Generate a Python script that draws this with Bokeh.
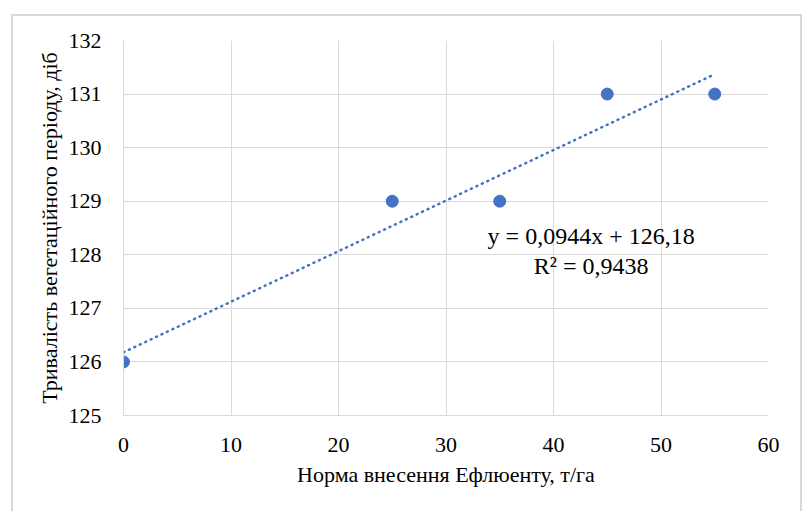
from bokeh.plotting import figure
from bokeh.models import FixedTicker, Range1d, Label
from bokeh.embed import file_html
from bokeh.resources import INLINE

# Effluent application rate (t/ha) vs. vegetation period length (days)
rate = [0, 25, 35, 45, 55]
days = [126, 129, 129, 131, 131]

x_ticks = [0, 10, 20, 30, 40, 50, 60]
y_ticks = [125, 126, 127, 128, 129, 130, 131, 132]

x_title = "Норма внесення Ефлюенту, т/га"
y_title = "Тривалість вегетаційного періоду, діб"

FONT = "Liberation Serif"
BLUE = "#4472C4"
GRID = "#d9d9d9"

# least-squares linear trend
n = len(rate)
mx = sum(rate) / n
my = sum(days) / n
sxx = sum((x - mx) ** 2 for x in rate)
sxy = sum((x - mx) * (y - my) for x, y in zip(rate, days))
syy = sum((y - my) ** 2 for y in days)
slope = sxy / sxx
intercept = my - slope * mx
r2 = sxy ** 2 / (sxx * syy)

def fmt(v, d):
    return f"{v:.{d}f}".replace(".", ",")

eq_line1 = f"y = {fmt(slope, 4)}x + {fmt(intercept, 2)}"
eq_line2 = f"R² = {fmt(r2, 4)}"

p = figure(width=791, height=497, output_backend="svg", toolbar_location=None,
           x_range=Range1d(0, 60), y_range=Range1d(125, 132),
           min_border_left=110, min_border_right=36,
           min_border_top=24, min_border_bottom=98)
p.margin = (14, 0, 0, 11)
p.styles = {"border-top": f"2px solid {GRID}", "border-left": f"2px solid {GRID}",
            "border-right": f"2px solid {GRID}"}
p.outline_line_color = None
p.background_fill_color = "white"
p.border_fill_color = "white"

p.xaxis.ticker = FixedTicker(ticks=x_ticks)
p.yaxis.ticker = FixedTicker(ticks=y_ticks)
p.xaxis.axis_label = x_title
p.yaxis.axis_label = y_title
p.axis.axis_line_color = GRID
p.axis.axis_line_width = 1
p.axis.major_tick_line_color = None
p.axis.minor_tick_line_color = None
p.axis.major_label_text_color = "#000000"
p.axis.major_label_text_font = FONT
p.axis.major_label_text_font_size = "22px"
p.axis.axis_label_text_font = FONT
p.axis.axis_label_text_font_size = "22px"
p.axis.axis_label_text_font_style = "normal"
p.axis.axis_label_text_color = "#000000"
p.xaxis.major_label_standoff = 16
p.yaxis.major_label_standoff = 16
p.xaxis.axis_label_standoff = 7
p.yaxis.axis_label_standoff = 4

p.xgrid.ticker = FixedTicker(ticks=x_ticks)
p.ygrid.ticker = FixedTicker(ticks=y_ticks)
p.grid.grid_line_color = GRID
p.grid.grid_line_width = 1

# trend line over the data span
tx = [min(rate), max(rate)]
ty = [intercept + slope * x for x in tx]
p.line(tx, ty, line_color=BLUE, line_width=2.5, line_dash="1 5", line_cap="round")

p.scatter(rate, days, size=12, fill_color=BLUE, line_color=BLUE)

p.add_layout(Label(x=43.5, y=128.35, text=eq_line1, text_font=FONT, text_font_size="24px",
                   text_align="center", text_baseline="middle", text_color="#000000"))
p.add_layout(Label(x=43.5, y=127.79, text=eq_line2, text_font=FONT, text_font_size="24px",
                   text_align="center", text_baseline="middle", text_color="#000000"))

open("out.html", "w").write(file_html(p, INLINE))
